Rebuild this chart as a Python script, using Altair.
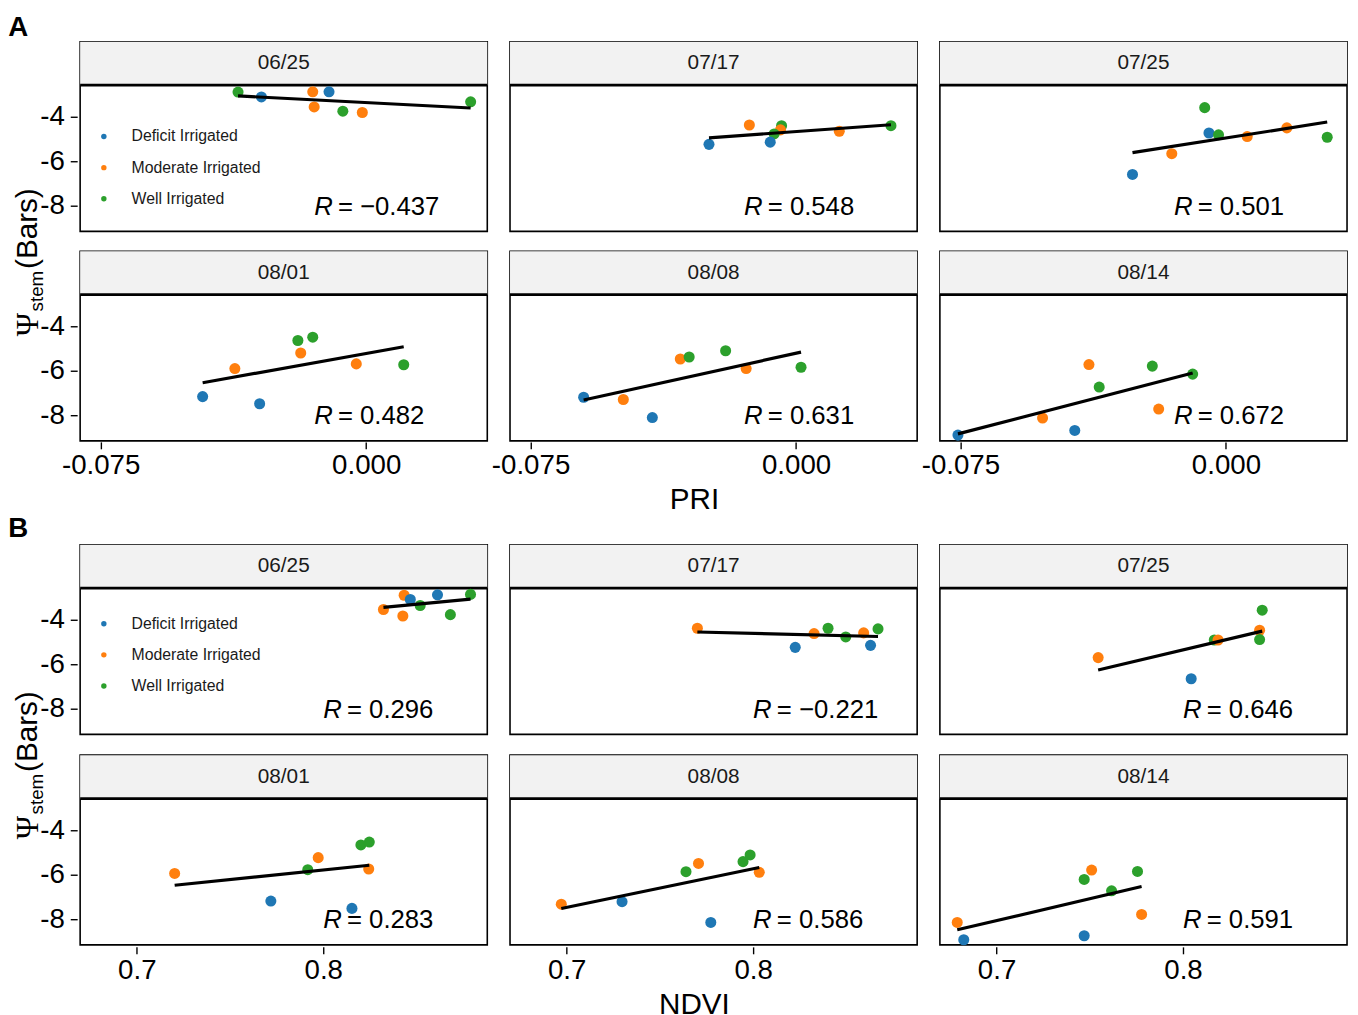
import altair as alt
import pandas as pd

DATES = ["06/25", "07/17", "07/25", "08/01", "08/08", "08/14"]
TREATMENTS = ["Deficit Irrigated", "Moderate Irrigated", "Well Irrigated"]
TRT_CODE = {"D": "Deficit Irrigated", "M": "Moderate Irrigated", "W": "Well Irrigated"}
COLORS = ["#1f77b4", "#ff7f0e", "#2ca02c"]

# ---------------- Panel A : PRI vs stem water potential ----------------
pri_0625_trt = ["W", "D", "M", "M", "D", "W", "M", "W"]
pri_0625_x = [-0.0362, -0.0296, -0.0151, -0.0147, -0.0105, -0.0066, -0.0011, 0.0295]
pri_0625_y = [-2.89, -3.11, -2.88, -3.56, -2.88, -3.75, -3.81, -3.33]

pri_0717_trt = ["D", "M", "W", "M", "W", "D", "M", "W"]
pri_0717_x = [-0.0246, -0.0132, -0.0041, -0.0044, -0.0062, -0.0073, 0.0122, 0.0268]
pri_0717_y = [-5.24, -4.37, -4.40, -4.59, -4.77, -5.14, -4.65, -4.40]

pri_0725_trt = ["W", "D", "W", "M", "D", "M", "M", "W"]
pri_0725_x = [-0.0060, -0.0048, -0.0021, -0.0153, -0.0264, 0.0060, 0.0172, 0.0286]
pri_0725_y = [-3.59, -4.73, -4.81, -5.66, -6.59, -4.89, -4.50, -4.92]

pri_0801_trt = ["D", "M", "D", "W", "M", "W", "M", "W"]
pri_0801_x = [-0.0462, -0.0371, -0.0301, -0.0193, -0.0185, -0.0151, -0.0028, 0.0106]
pri_0801_y = [-7.16, -5.90, -7.48, -4.64, -5.20, -4.49, -5.69, -5.73]

pri_0808_trt = ["D", "M", "D", "M", "W", "W", "M", "W"]
pri_0808_x = [-0.0600, -0.0488, -0.0406, -0.0327, -0.0302, -0.0199, -0.0141, 0.0014]
pri_0808_y = [-7.19, -7.29, -8.10, -5.47, -5.38, -5.10, -5.90, -5.84]

pri_0814_trt = ["D", "M", "D", "M", "W", "W", "M", "W"]
pri_0814_x = [-0.0757, -0.0518, -0.0427, -0.0387, -0.0358, -0.0208, -0.0190, -0.0094]
pri_0814_y = [-8.89, -8.12, -8.68, -5.72, -6.73, -5.79, -7.72, -6.15]

pri_r = [-0.437, 0.548, 0.501, 0.482, 0.631, 0.672]

# ---------------- Panel B : NDVI vs stem water potential ----------------
ndvi_0625_trt = ["M", "M", "M", "D", "W", "D", "W", "W"]
ndvi_0625_x = [0.8323, 0.8434, 0.8427, 0.8467, 0.8520, 0.8613, 0.8682, 0.8790]
ndvi_0625_y = [-3.54, -2.90, -3.83, -3.09, -3.36, -2.88, -3.77, -2.86]

ndvi_0717_trt = ["M", "M", "W", "W", "M", "W", "D", "D"]
ndvi_0717_x = [0.7701, 0.8327, 0.8402, 0.8497, 0.8593, 0.8670, 0.8226, 0.8630]
ndvi_0717_y = [-4.38, -4.62, -4.38, -4.77, -4.59, -4.41, -5.24, -5.15]

ndvi_0725_trt = ["M", "D", "W", "M", "W", "M", "W"]
ndvi_0725_x = [0.7545, 0.8044, 0.8168, 0.8188, 0.8425, 0.8411, 0.8411]
ndvi_0725_y = [-5.70, -6.65, -4.91, -4.91, -3.57, -4.47, -4.89]

ndvi_0801_trt = ["M", "D", "W", "M", "D", "W", "W", "M"]
ndvi_0801_x = [0.7203, 0.7719, 0.7917, 0.7973, 0.8154, 0.8202, 0.8247, 0.8244]
ndvi_0801_y = [-5.94, -7.18, -5.77, -5.23, -7.51, -4.66, -4.53, -5.74]

ndvi_0808_trt = ["M", "D", "D", "W", "M", "W", "W", "M"]
ndvi_0808_x = [0.6971, 0.7297, 0.7773, 0.7640, 0.7707, 0.7946, 0.7984, 0.8033]
ndvi_0808_y = [-7.32, -7.21, -8.14, -5.86, -5.49, -5.41, -5.11, -5.89]

ndvi_0814_trt = ["M", "D", "D", "W", "M", "W", "W", "M"]
ndvi_0814_x = [0.6789, 0.6824, 0.7470, 0.7470, 0.7510, 0.7617, 0.7756, 0.7778]
ndvi_0814_y = [-8.14, -8.92, -8.74, -6.21, -5.79, -6.72, -5.85, -7.78]

ndvi_r = [0.296, -0.221, 0.646, 0.283, 0.586, 0.591]

# axis settings
PRI_DOMAIN = [-0.0808, 0.0342]
PRI_TICKS = [-0.075, 0.0]
NDVI_DOMAIN = [0.6696, 0.888]
NDVI_TICKS = [0.7, 0.8]
PSI_DOMAIN = [-9.15, -2.58]
PSI_TICKS = [-4, -6, -8]
PRI_R_X = -0.0147
NDVI_R_X = 0.800
R_Y = -8.40

W = 412
H = 192
STRIP = 44
GAP = 17
FONT = "Liberation Sans"


def fmt_r(r):
    return "= " + ("\u2212" if r < 0 else "") + f"{abs(r):.3f}"


def build_section(letter, trts, xs, ys, rvals, rx, xdomain, xticks, xexpr, xtitle,
                  legend_y, title_offset):
    rows = []
    for d, tl, xl, yl in zip(DATES, trts, xs, ys):
        for t, xv, yv in zip(tl, xl, yl):
            rows.append(dict(date=d, kind="pt", Treatment=TRT_CODE[t], x=xv, y=yv, rtxt=""))
    for d, r in zip(DATES, rvals):
        rows.append(dict(date=d, kind="lab", Treatment="", x=rx, y=R_Y, rtxt=fmt_r(r)))
    df = pd.DataFrame(rows)

    xscale = alt.Scale(domain=xdomain, nice=False, zero=False)
    yscale = alt.Scale(domain=PSI_DOMAIN, range=[H, STRIP], nice=False, zero=False)
    xaxis = alt.Axis(values=xticks, title=None, labelExpr=xexpr, labelFontSize=28,
                     tickSize=7, labelPadding=3, tickWidth=1.4)
    yaxis = alt.Axis(values=PSI_TICKS, title=None, labelExpr="toString(datum.value)",
                     labelFontSize=28, tickSize=7, labelPadding=6, tickWidth=1.4)

    base = alt.Chart()
    is_pt = "datum.kind == 'pt'"
    is_lab = "datum.kind == 'lab'"

    strip = base.transform_filter(is_lab).mark_rect(fill="#F2F2F2").encode(
        x=alt.value(0), x2=alt.value(W), y=alt.value(0), y2=alt.value(STRIP))
    sep = base.transform_filter(is_lab).mark_rule(color="black", strokeWidth=2.8).encode(
        x=alt.value(0), x2=alt.value(W), y=alt.value(STRIP))
    strip_txt = base.transform_filter(is_lab).mark_text(
        fontSize=21, color="#1a1a1a", baseline="middle").encode(
        text="date:N", x=alt.value(W / 2), y=alt.value(STRIP / 2))

    points = base.transform_filter(is_pt).mark_circle(size=125, opacity=1).encode(
        x=alt.X("x:Q", scale=xscale, axis=xaxis),
        y=alt.Y("y:Q", scale=yscale, axis=yaxis),
        color=alt.Color("Treatment:N", scale=alt.Scale(domain=TREATMENTS, range=COLORS),
                        legend=alt.Legend(orient="none", legendX=88, legendY=legend_y,
                                          title=None, labelFontSize=16, symbolSize=30,
                                          symbolType="circle", rowPadding=15.5,
                                          labelOffset=20, padding=0, labelColor="#1a1a1a")),
    )
    line = base.transform_filter(is_pt).transform_regression(
        "x", "y", groupby=["date"]).mark_line(color="black", strokeWidth=3.2).encode(
        x=alt.X("x:Q", scale=xscale), y=alt.Y("y:Q", scale=yscale))
    r_letter = base.transform_filter(is_lab).mark_text(
        text="R", fontStyle="italic", fontSize=26, align="left", baseline="alphabetic",
        color="black").encode(x=alt.X("x:Q", scale=xscale), y=alt.Y("y:Q", scale=yscale))
    r_value = base.transform_filter(is_lab).mark_text(
        fontSize=26, align="left", baseline="alphabetic", dx=24, color="black").encode(
        x=alt.X("x:Q", scale=xscale), y=alt.Y("y:Q", scale=yscale), text="rtxt:N")

    panel = alt.layer(strip, sep, strip_txt, points, line, r_letter, r_value, data=df).properties(
        width=W, height=H)
    facet = panel.facet(
        facet=alt.Facet("date:N", sort=DATES, title=None,
                        header=alt.Header(labels=False, labelFontSize=1, labelPadding=0,
                                          labelExpr="''")),
        columns=3, spacing=GAP,
    ).properties(title=alt.TitleParams(xtitle, orient="bottom", anchor="middle", fontSize=30,
                                       fontWeight="normal", offset=6, color="black"))

    tdf = pd.DataFrame({"k": [0]})
    tv = alt.ViewBackground(stroke="transparent")
    psi = alt.Chart(tdf).mark_text(text="\u03a8", angle=270, fontSize=32, font="Liberation Serif",
                                   align="left", baseline="alphabetic", color="black").encode(
        x=alt.value(29), y=alt.value(298))
    stem = alt.Chart(tdf).mark_text(text="stem", angle=270, fontSize=19, align="left",
                                    baseline="alphabetic", color="black").encode(
        x=alt.value(34), y=alt.value(273))
    bars = alt.Chart(tdf).mark_text(text="(Bars)", angle=270, fontSize=30, align="left",
                                    baseline="alphabetic", color="black").encode(
        x=alt.value(28), y=alt.value(230))
    ytitle = alt.layer(psi, stem, bars).properties(width=20, height=2 * H + GAP, view=tv)

    sec = alt.hconcat(ytitle, facet, spacing=52, bounds="flush").properties(
        title=alt.TitleParams(letter, anchor="start", frame="bounds", fontSize=28,
                              fontWeight="bold", offset=title_offset, color="black"))
    return sec


secA = build_section(
    "A",
    [pri_0625_trt, pri_0717_trt, pri_0725_trt, pri_0801_trt, pri_0808_trt, pri_0814_trt],
    [pri_0625_x, pri_0717_x, pri_0725_x, pri_0801_x, pri_0808_x, pri_0814_x],
    [pri_0625_y, pri_0717_y, pri_0725_y, pri_0801_y, pri_0808_y, pri_0814_y],
    pri_r, PRI_R_X, PRI_DOMAIN, PRI_TICKS,
    "datum.value == 0 ? '0.000' : toString(datum.value)", "PRI", 88, -2)

secB = build_section(
    "B",
    [ndvi_0625_trt, ndvi_0717_trt, ndvi_0725_trt, ndvi_0801_trt, ndvi_0808_trt, ndvi_0814_trt],
    [ndvi_0625_x, ndvi_0717_x, ndvi_0725_x, ndvi_0801_x, ndvi_0808_x, ndvi_0814_x],
    [ndvi_0625_y, ndvi_0717_y, ndvi_0725_y, ndvi_0801_y, ndvi_0808_y, ndvi_0814_y],
    ndvi_r, NDVI_R_X, NDVI_DOMAIN, NDVI_TICKS,
    "toString(datum.value)", "NDVI", 72, 0)

chart = alt.vconcat(secA, secB, spacing=0).resolve_scale(
    color="independent", x="independent", y="independent"
).resolve_legend(color="independent").properties(padding=0).configure(
    font=FONT
).configure_view(
    stroke="black", strokeWidth=1.6
).configure_axis(
    grid=False, domain=False, tickColor="black", labelColor="black", labelFont=FONT
).configure_header(
    labels=False, labelPadding=0
).configure_title(font=FONT)

chart.save("out.html", embed_options={"renderer": "svg", "actions": False})
